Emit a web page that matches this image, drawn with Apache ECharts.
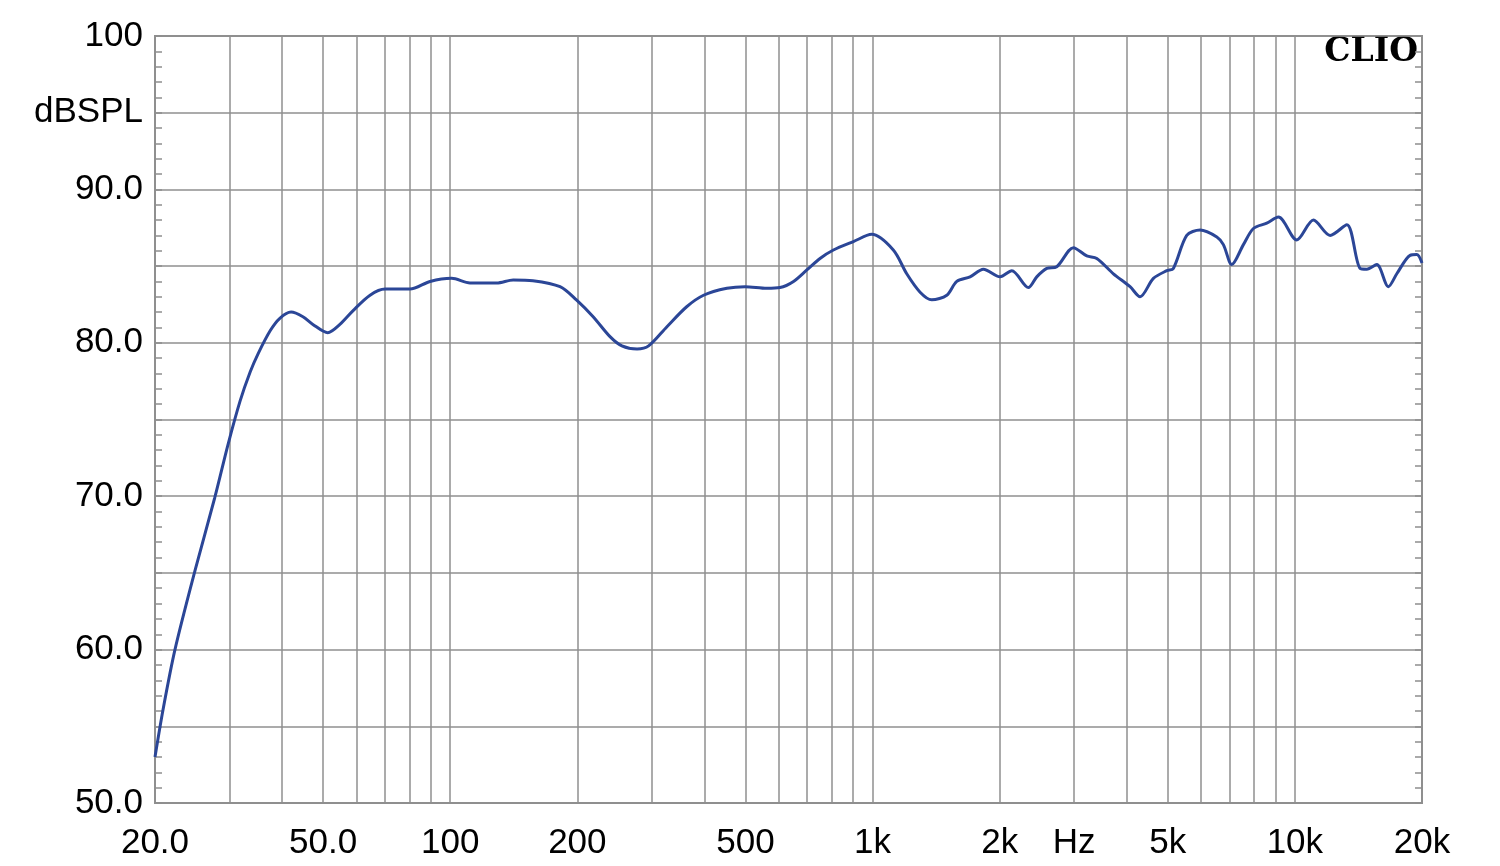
<!DOCTYPE html>
<html>
<head>
<meta charset="utf-8">
<script src="https://cdn.jsdelivr.net/npm/echarts@6/dist/echarts.min.js"></script>
<style>
html,body{margin:0;padding:0;background:#fff;}
#chart{width:1500px;height:866px;}
</style>
</head>
<body>
<div id="chart"></div>
<script>
// Frequency (Hz) and level (dB SPL)
const freqs = [20, 20.9, 22.3, 24.9, 27.7, 29.8, 31.8, 33.6, 35.1, 37.5, 39.5, 42.0, 44.8, 47.3, 51.3, 54.8, 58.9, 64.6, 70.1, 80.3, 89.6, 100.8, 111.4, 128.9, 141, 157, 182, 199, 218, 239, 255, 277, 295, 326, 363, 398, 452, 499, 562, 604, 650, 699, 751, 808, 901, 996, 1120, 1205, 1296, 1381, 1499, 1583, 1702, 1830, 2004, 2137, 2339, 2448, 2586, 2730, 2990, 3216, 3396, 3718, 4072, 4300, 4624, 4975, 5156, 5546, 5963, 6535, 6772, 7090, 7554, 7977, 8580, 9142, 10105, 11066, 12120, 13274, 14272, 14804, 15632, 16650, 17432, 18742, 19438, 20000];
const spl = [53.0, 56.1, 60.0, 65.2, 69.9, 73.4, 76.2, 78.1, 79.3, 80.8, 81.6, 82.0, 81.7, 81.2, 80.66, 81.2, 82.1, 83.1, 83.5, 83.5, 84.0, 84.2, 83.9, 83.9, 84.1, 84.05, 83.66, 82.8, 81.7, 80.4, 79.8, 79.6, 79.8, 81.05, 82.35, 83.1, 83.55, 83.66, 83.55, 83.6, 84.0, 84.75, 85.5, 86.05, 86.6, 87.07, 86.05, 84.5, 83.3, 82.8, 83.1, 84.0, 84.3, 84.8, 84.3, 84.7, 83.6, 84.3, 84.85, 84.96, 86.2, 85.66, 85.5, 84.5, 83.66, 83.0, 84.2, 84.7, 84.85, 87.0, 87.35, 86.9, 86.4, 85.1, 86.4, 87.45, 87.8, 88.2, 86.7, 88.0, 87.0, 87.7, 84.85, 84.8, 85.1, 83.66, 84.5, 85.7, 85.75, 85.2];

// Vertical grid lines (Hz)
const xGridValues = [20, 30, 40, 50, 60, 70, 80, 90, 100, 200, 300, 400, 500, 600, 700, 800, 900, 1000, 2000, 3000, 4000, 5000, 6000, 7000, 8000, 9000, 10000, 20000];
// X tick labels
const xLabelValues = [20, 50, 100, 200, 500, 1000, 2000, 3000, 5000, 10000, 20000];
const xLabelTexts = ['20.0', '50.0', '100', '200', '500', '1k', '2k', 'Hz', '5k', '10k', '20k'];
// Y tick labels
const yLabelValues = [50, 55, 60, 65, 70, 75, 80, 85, 90, 95, 100];
const yLabelTexts = ['50.0', '', '60.0', '', '70.0', '', '80.0', '', '90.0', 'dBSPL', '100'];

const gridColor = '#8f8f8f';
const FONT = 'Liberation Sans, Arial, sans-serif';

const chart = echarts.init(document.getElementById('chart'), null, {renderer: 'canvas'});
const data = freqs.map((f, i) => [f, spl[i]]);

chart.setOption({
  animation: false,
  backgroundColor: '#fff',
  grid: {left: 155, right: 78, top: 36, bottom: 63, show: true, borderColor: gridColor, borderWidth: 2, containLabel: false},
  graphic: [{
    type: 'text', x: 1418, y: 52,
    style: {text: 'CLIO', fontFamily: 'DejaVu Serif, serif', fontWeight: 'bold', fontSize: 33, fill: '#000', textAlign: 'right', textVerticalAlign: 'middle'}
  }],
  xAxis: {
    type: 'log', logBase: 10, min: 20, max: 20000,
    axisLine: {show: true, lineStyle: {color: gridColor, width: 2}},
    axisTick: {show: false, customValues: xGridValues},
    splitLine: {show: true, lineStyle: {color: gridColor, width: 1.5}},
    axisLabel: {
      customValues: xLabelValues, margin: 23, color: '#000', fontFamily: FONT, fontSize: 35,
      formatter: function (v) { const i = xLabelValues.findIndex(x => Math.abs(x - v) / x < 1e-6); return i >= 0 ? xLabelTexts[i] : ''; }
    }
  },
  yAxis: [{
    type: 'value', min: 50, max: 100, interval: 5,
    axisLine: {show: true, lineStyle: {color: gridColor, width: 2}},
    axisTick: {show: true, inside: true, length: 7, lineStyle: {color: gridColor, width: 1.5}},
    minorTick: {show: true, splitNumber: 5, length: 7, lineStyle: {color: gridColor, width: 1.5}},
    splitLine: {show: true, lineStyle: {color: gridColor, width: 1.5}},
    axisLabel: {
      margin: 12, color: '#000', fontFamily: FONT, fontSize: 35,
      formatter: function (v) { const i = yLabelValues.findIndex(x => Math.abs(x - v) < 1e-6); return i >= 0 ? yLabelTexts[i] : ''; }
    }
  }, {
    type: 'value', min: 50, max: 100, interval: 5, position: 'right',
    axisLine: {show: true, lineStyle: {color: gridColor, width: 2}},
    axisTick: {show: true, inside: true, length: 7, lineStyle: {color: gridColor, width: 1.5}},
    minorTick: {show: true, splitNumber: 5, length: 7, lineStyle: {color: gridColor, width: 1.5}},
    splitLine: {show: false},
    axisLabel: {show: false}
  }],
  series: [{
    type: 'line', data: data, xAxisIndex: 0, yAxisIndex: 0,
    showSymbol: false, smooth: 0.3,
    lineStyle: {color: '#2b4697', width: 3},
    z: 5
  }]
});
</script>
</body>
</html>
